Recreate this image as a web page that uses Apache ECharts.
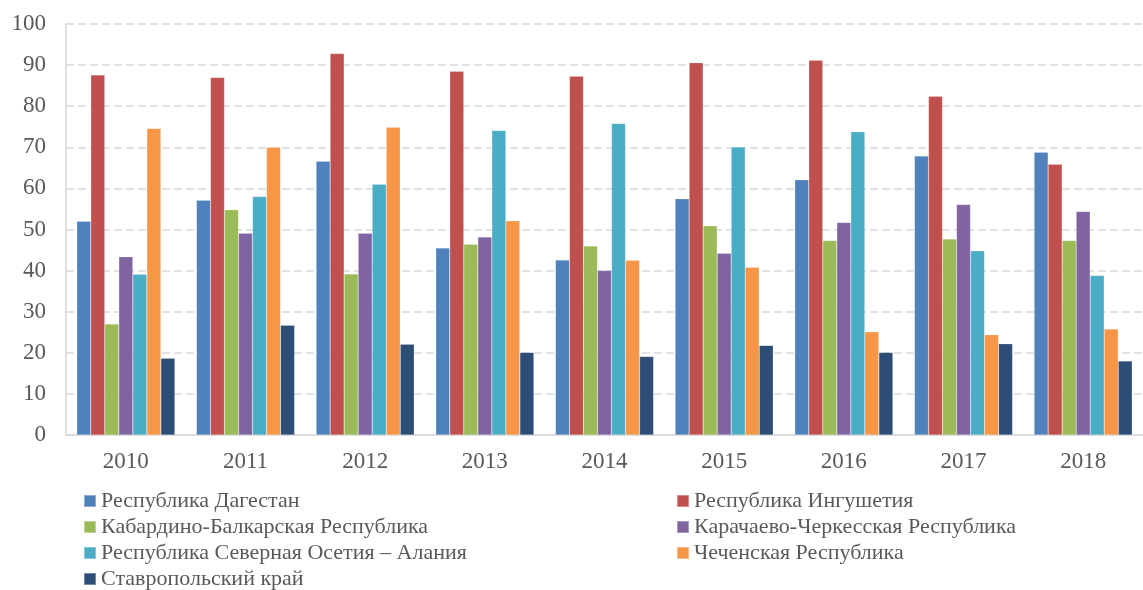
<!DOCTYPE html>
<html>
<head>
	<meta charset="utf-8">
	<title>chart</title>
	<style>
		html, body { margin: 0; padding: 0; background: #fff; }
	</style>
</head>
<body>
	<div id="box" style="width: 1143px;height: 590px"></div>
</body>
<script type="text/javascript" src="https://cdn.jsdelivr.net/npm/echarts@6/dist/echarts.min.js"></script>
<script type="text/javascript">
	var years = ['2010', '2011', '2012', '2013', '2014', '2015', '2016', '2017', '2018'];
	// значения по регионам
	var dagestan = [52.0, 57.1, 66.6, 45.5, 42.6, 57.5, 62.1, 67.9, 68.8];
	var ingushetia = [87.6, 87.0, 92.8, 88.5, 87.3, 90.6, 91.2, 82.4, 65.9];
	var kbr = [27.0, 54.8, 39.2, 46.4, 46.0, 50.9, 47.3, 47.7, 47.3];
	var kchr = [43.4, 49.1, 49.1, 48.2, 40.0, 44.2, 51.7, 56.1, 54.4];
	var osetia = [39.1, 58.0, 61.0, 74.1, 75.8, 70.1, 73.8, 44.8, 38.8];
	var chechnya = [74.6, 70.0, 74.9, 52.1, 42.5, 40.8, 25.1, 24.4, 25.8];
	var stavropol = [18.7, 26.7, 22.1, 20.1, 19.1, 21.8, 20.1, 22.2, 18.0];

	var names = [
		'Республика Дагестан',
		'Республика Ингушетия',
		'Кабардино-Балкарская Республика',
		'Карачаево-Черкесская Республика',
		'Республика Северная Осетия – Алания',
		'Чеченская Республика',
		'Ставропольский край'
	];
	var values = [dagestan, ingushetia, kbr, kchr, osetia, chechnya, stavropol];
	var colors = ['#4f81bd', '#c0504d', '#9bbb59', '#8064a2', '#4bacc6', '#f79646', '#2c4d75'];

	var font = '"Liberation Serif", "DejaVu Serif", serif';
	var textColor = '#595959';

	var legendText = { fontFamily: font, fontSize: 22, color: textColor };

	var myChart = echarts.init(document.getElementById('box'));
	myChart.setOption({
		animation: false,
		color: colors,
		grid: { left: 66, right: -7, top: 24, bottom: 155, containLabel: false },
		legend: [
			{
				orient: 'vertical', left: 83, top: 490, height: 140, padding: 0,
				itemWidth: 12, itemHeight: 12, itemGap: 4,
				icon: 'rect',
				textStyle: legendText,
				data: [names[0], names[2], names[4], names[6]]
			},
			{
				orient: 'vertical', left: 676, top: 490, height: 140, padding: 0,
				itemWidth: 12, itemHeight: 12, itemGap: 4,
				icon: 'rect',
				textStyle: legendText,
				data: [names[1], names[3], names[5]]
			}
		],
		xAxis: {
			type: 'category',
			data: years,
			axisLine: { lineStyle: { color: '#d9d9d9', width: 1.5 } },
			axisTick: { show: false },
			axisLabel: { fontFamily: font, fontSize: 23, color: textColor, margin: 15 }
		},
		yAxis: {
			type: 'value',
			min: 0, max: 100, interval: 10,
			axisLine: { show: true, lineStyle: { color: '#d9d9d9', width: 1.5 } },
			axisTick: { show: false },
			axisLabel: { fontFamily: font, fontSize: 23, color: textColor, margin: 20 },
			splitLine: { lineStyle: { color: '#d9d9d9', type: [8, 4], width: 1.5 } }
		},
		series: names.map(function (n, i) {
			return {
				name: n,
				type: 'bar',
				data: values[i],
				barGap: '0%',
				barCategoryGap: '18%',
				itemStyle: { color: colors[i], borderColor: 'rgba(255,255,255,0.35)', borderWidth: 0.5 }
			};
		})
	});
</script>
</html>
